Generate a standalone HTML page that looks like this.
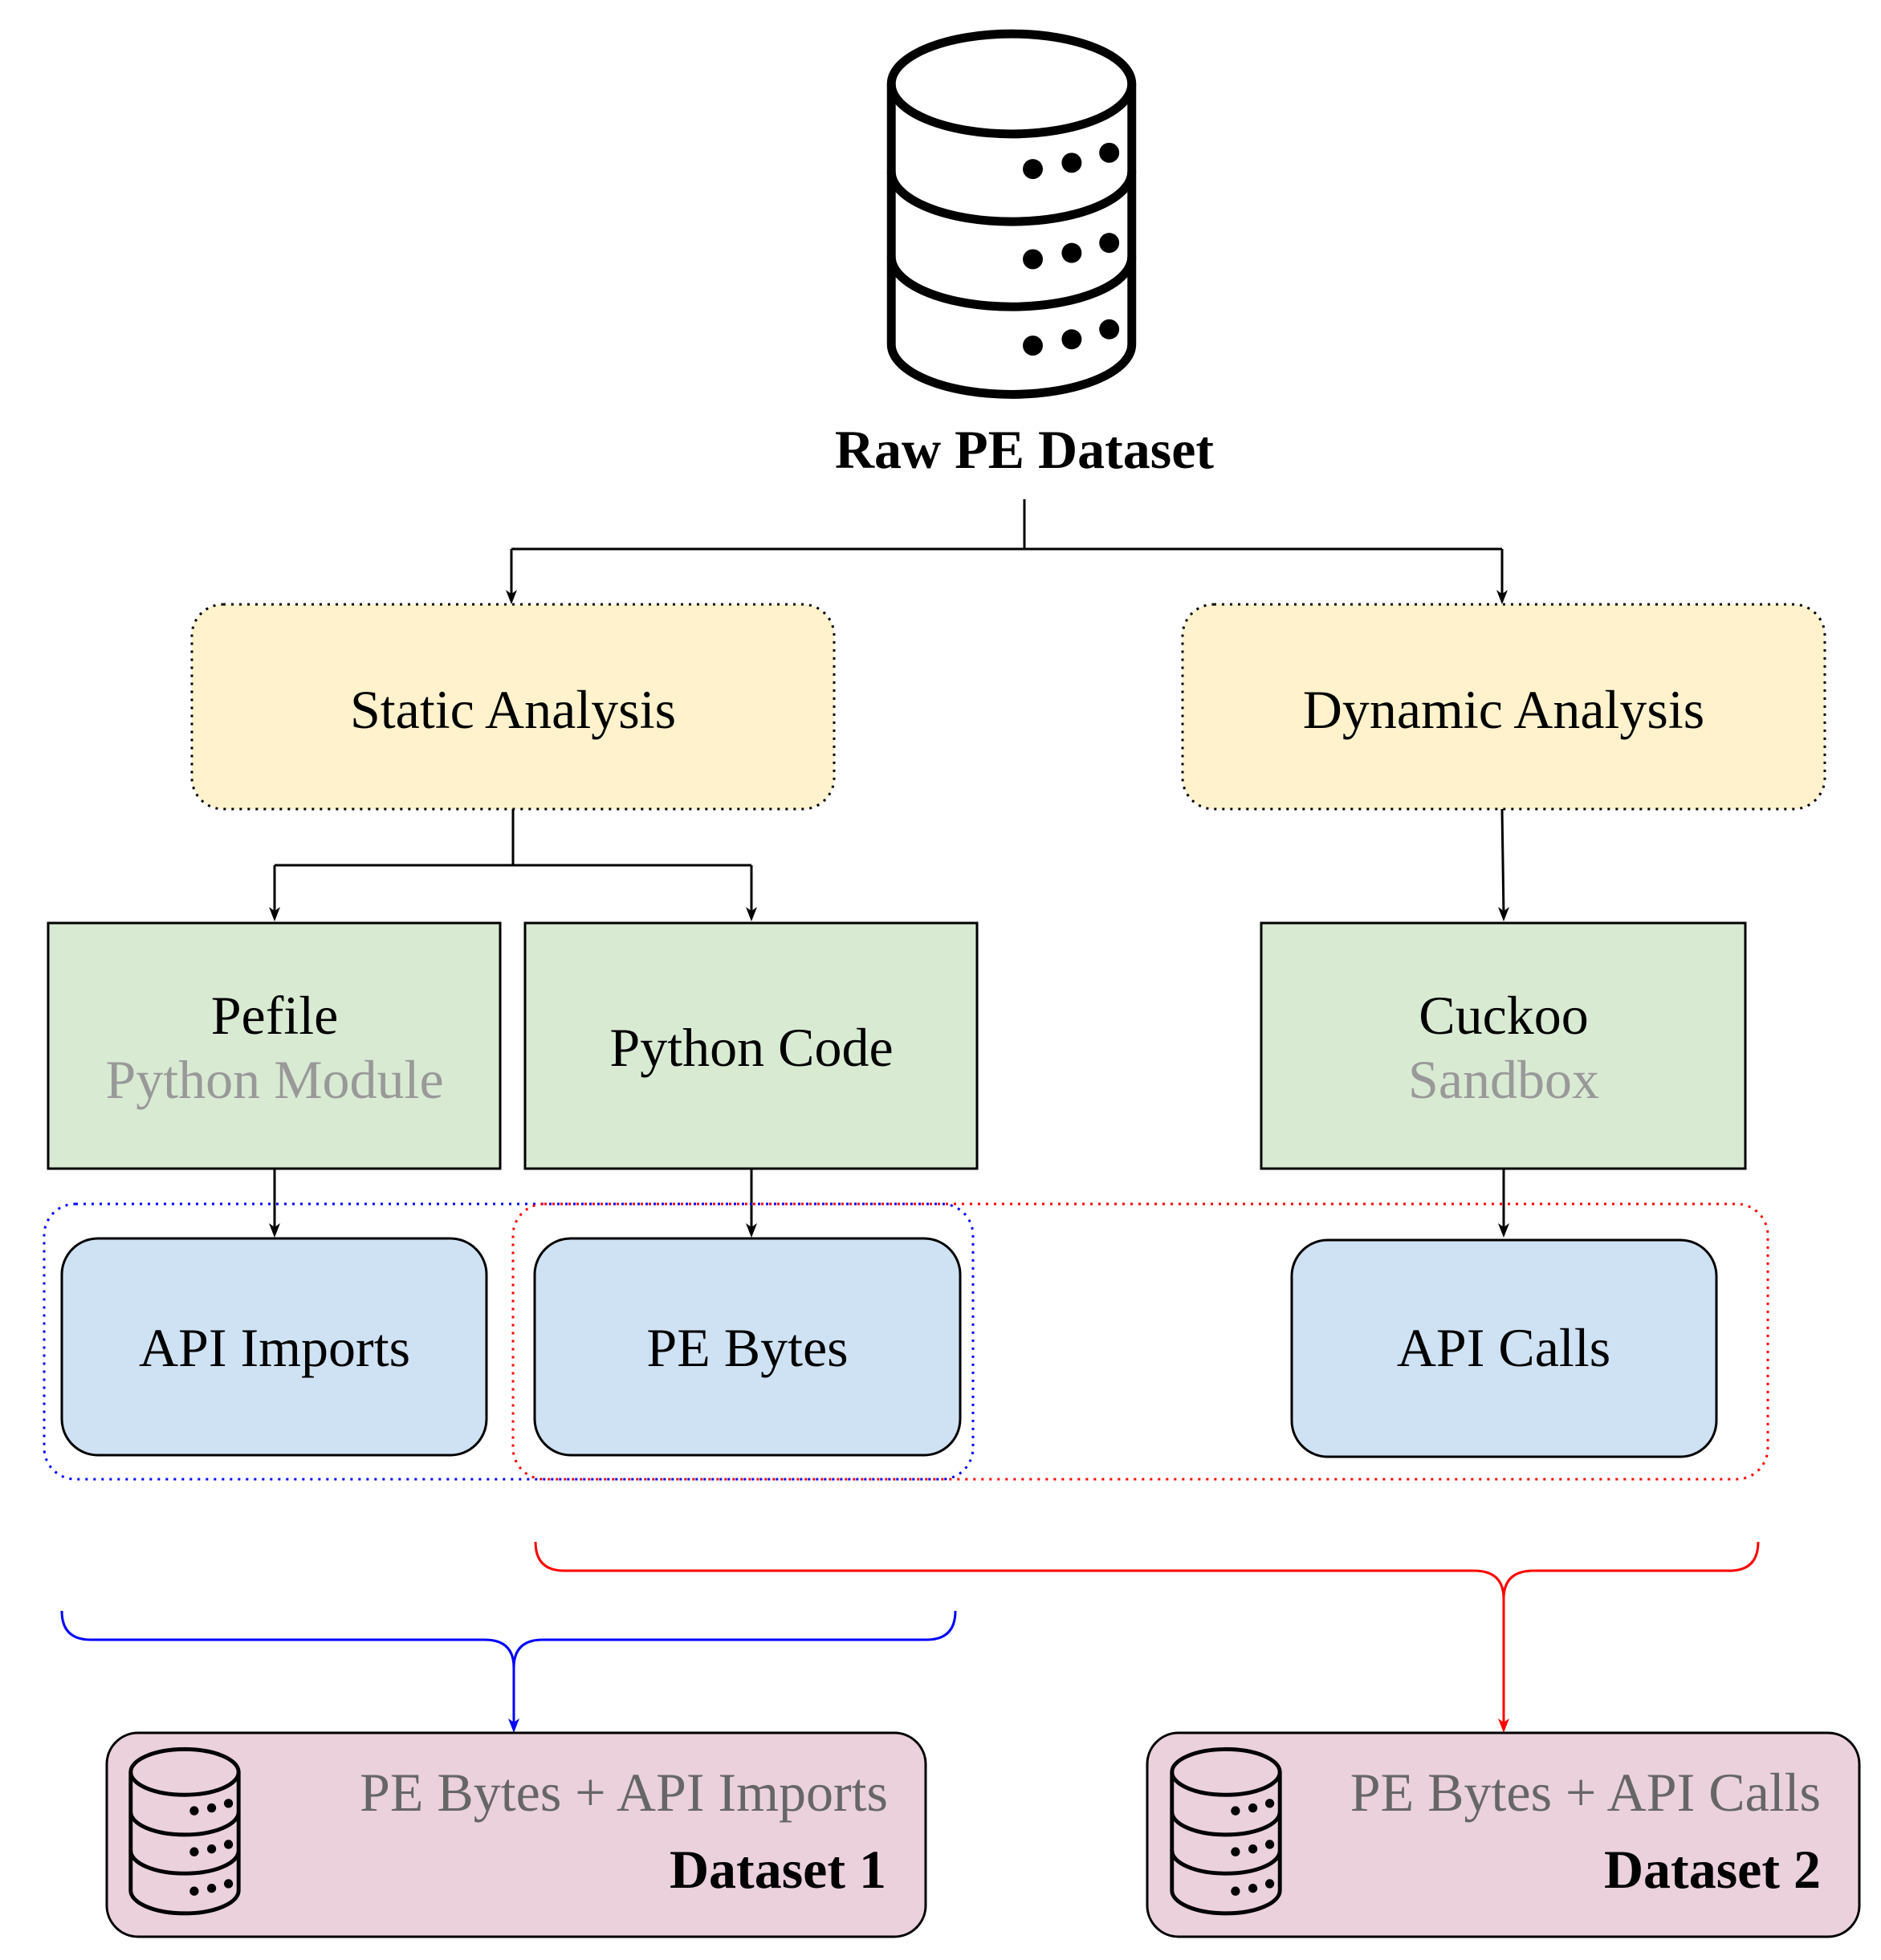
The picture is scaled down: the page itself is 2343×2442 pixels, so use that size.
<!DOCTYPE html>
<html><head><meta charset="utf-8"><style>
html,body{margin:0;padding:0;background:#fff}
svg{display:block}
text{font-family:"Liberation Serif",serif}
</style></head><body>
<svg width="2343" height="2442" viewBox="0 0 2343 2442" xmlns="http://www.w3.org/2000/svg">
<defs>
<g id="cyl" fill="none" stroke="#000" stroke-width="7">
  <ellipse cx="100" cy="42" rx="96" ry="40"/>
  <path d="M4,42 V250 A96,40 0 0 0 196,250 V42"/>
  <path d="M4,112 A96,40 0 0 0 196,112"/>
  <path d="M4,180 A96,40 0 0 0 196,180"/>
  <g fill="#000" stroke="none">
    <circle cx="117" cy="110" r="8"/><circle cx="148" cy="105" r="8"/><circle cx="178" cy="97" r="8"/>
    <circle cx="117" cy="182" r="8"/><circle cx="148" cy="177" r="8"/><circle cx="178" cy="169" r="8"/>
    <circle cx="117" cy="251" r="8"/><circle cx="148" cy="246" r="8"/><circle cx="178" cy="238" r="8"/>
  </g>
</g>
</defs>

<g transform="translate(1104,39) scale(1.56)"><use href="#cyl"/></g>
<text x="1276" y="583" font-size="68" font-weight="bold" text-anchor="middle">Raw PE Dataset</text>

<g stroke="#000" stroke-width="3" fill="none">
  <path d="M1276,622 V684 M637,684 H1871 M637,684 V745 M1871,684 V745"/>
  <path d="M639,1008 V1078 M342,1078 H936 M342,1078 V1140 M936,1078 V1140"/>
  <path d="M1871,1008 L1873,1140"/>
  <path d="M342,1456 V1534 M936,1456 V1534 M1873,1456 V1534"/>
</g>
<g fill="#000">
  <path d="M637,753 l-7,-18 l7,5 l7,-5z"/>
  <path d="M1871,753 l-7,-18 l7,5 l7,-5z"/>
  <path d="M342,1148 l-7,-18 l7,5 l7,-5z"/>
  <path d="M936,1148 l-7,-18 l7,5 l7,-5z"/>
  <path d="M1873,1148 l-7,-18 l7,5 l7,-5z"/>
  <path d="M342,1542 l-7,-18 l7,5 l7,-5z"/>
  <path d="M936,1542 l-7,-18 l7,5 l7,-5z"/>
  <path d="M1873,1542 l-7,-18 l7,5 l7,-5z"/>
</g>

<rect x="239" y="753" width="800" height="255" rx="39" fill="#fff2cc" stroke="#000" stroke-width="3" stroke-dasharray="3,7"/>
<rect x="1473" y="753" width="800" height="255" rx="39" fill="#fff2cc" stroke="#000" stroke-width="3" stroke-dasharray="3,7"/>
<text x="639" y="907" font-size="68" text-anchor="middle">Static Analysis</text>
<text x="1873" y="907" font-size="68" text-anchor="middle">Dynamic Analysis</text>

<rect x="60" y="1150" width="563" height="306" fill="#d9ead3" stroke="#000" stroke-width="3"/>
<rect x="654" y="1150" width="563" height="306" fill="#d9ead3" stroke="#000" stroke-width="3"/>
<rect x="1571" y="1150" width="603" height="306" fill="#d9ead3" stroke="#000" stroke-width="3"/>
<text x="342" y="1288" font-size="68" text-anchor="middle">Pefile</text>
<text x="342" y="1368" font-size="68" text-anchor="middle" fill="#999">Python Module</text>
<text x="936" y="1328" font-size="68" text-anchor="middle">Python Code</text>
<text x="1873" y="1288" font-size="68" text-anchor="middle">Cuckoo</text>
<text x="1873" y="1368" font-size="68" text-anchor="middle" fill="#999">Sandbox</text>

<rect x="77" y="1543" width="529" height="270" rx="45" fill="#cfe2f3" stroke="#000" stroke-width="3"/>
<rect x="666" y="1543" width="530" height="270" rx="45" fill="#cfe2f3" stroke="#000" stroke-width="3"/>
<rect x="1609" y="1545" width="529" height="270" rx="45" fill="#cfe2f3" stroke="#000" stroke-width="3"/>
<text x="342" y="1702" font-size="68" text-anchor="middle">API Imports</text>
<text x="931" y="1702" font-size="68" text-anchor="middle">PE Bytes</text>
<text x="1873" y="1702" font-size="68" text-anchor="middle">API Calls</text>

<rect x="55" y="1500" width="1157" height="343" rx="39" fill="none" stroke="#0000ff" stroke-width="3" stroke-dasharray="3,7"/>
<rect x="639" y="1500" width="1563" height="343" rx="39" fill="none" stroke="#ff0000" stroke-width="3" stroke-dasharray="3,7"/>

<path d="M667,1921 Q667,1957 703,1957 H1836 Q1873,1957 1873,1992 Q1873,1957 1910,1957 H2154 Q2190,1957 2190,1921 M1873,1992 V2150" fill="none" stroke="#ff0000" stroke-width="3"/>
<path d="M1873,2159 l-7,-18 l7,5 l7,-5z" fill="#ff0000"/>
<path d="M77,2007 Q77,2043 113,2043 H604 Q640,2043 640,2078 Q640,2043 676,2043 H1154 Q1190,2043 1190,2007 M640,2078 V2150" fill="none" stroke="#0000ff" stroke-width="3"/>
<path d="M640,2159 l-7,-18 l7,5 l7,-5z" fill="#0000ff"/>

<rect x="133" y="2159" width="1020" height="254" rx="39" fill="#ead1dc" stroke="#000" stroke-width="3"/>
<rect x="1429" y="2159" width="887" height="254" rx="39" fill="#ead1dc" stroke="#000" stroke-width="3"/>
<g transform="translate(160,2178) scale(0.7,0.71)"><use href="#cyl"/></g>
<g transform="translate(1457,2178) scale(0.7,0.71)"><use href="#cyl"/></g>
<text x="1106" y="2256" font-size="68" text-anchor="end" fill="#666">PE Bytes + API Imports</text>
<text x="1104" y="2352" font-size="68" font-weight="bold" text-anchor="end">Dataset 1</text>
<text x="2268" y="2256" font-size="68" text-anchor="end" fill="#666">PE Bytes + API Calls</text>
<text x="2268" y="2352" font-size="68" font-weight="bold" text-anchor="end">Dataset 2</text>
</svg>
</body></html>
